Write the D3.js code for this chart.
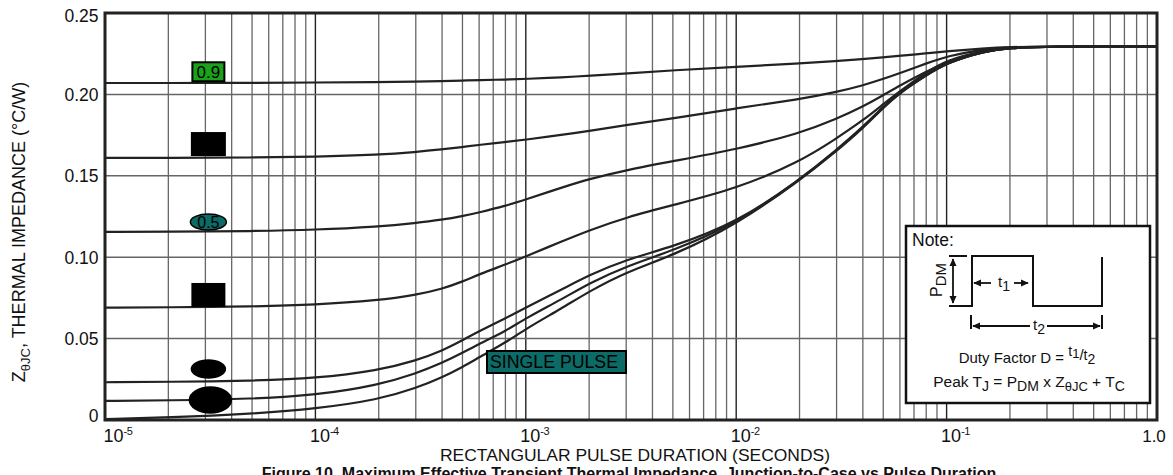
<!DOCTYPE html>
<html><head><meta charset="utf-8">
<script src="https://cdn.jsdelivr.net/npm/d3@7"></script>
<style>body{margin:0;background:#fff}svg{display:block;font-family:"Liberation Sans",Arial,Helvetica,sans-serif}</style>
</head><body><svg id="c" width="1173" height="475"></svg>
<script>
// ---------- DATA ----------
const times = [1e-5,2e-5,5e-5,1e-4,2e-4,3e-4,4e-4,5e-4,6e-4,8e-4,1e-3,1.5e-3,2e-3,3e-3,5e-3,1e-2,2e-2,3e-2,4e-2,5e-2,6e-2,8e-2,1e-1,1.5e-1,2e-1,3e-1,1];
const zD09 = [0.207,0.207,0.2071,0.2073,0.2076,0.2079,0.2082,0.2085,0.2088,0.2091,0.2095,0.2105,0.2115,0.2128,0.2148,0.2170,0.2190,0.2205,0.2217,0.2228,0.2237,0.2252,0.2265,0.2283,0.2291,0.2295,0.2295];
const zD07 = [0.161,0.161,0.1612,0.1617,0.1630,0.1646,0.1662,0.1677,0.1690,0.1708,0.1722,0.1752,0.1775,0.1812,0.1852,0.1915,0.1970,0.2015,0.2055,0.2095,0.2130,0.2190,0.2235,0.2277,0.2290,0.2295,0.2295];
const zD05 = [0.1155,0.1156,0.1160,0.1168,0.1188,0.1210,0.1230,0.1252,0.1275,0.1315,0.1355,0.1430,0.1480,0.1535,0.1590,0.1662,0.1760,0.1850,0.1925,0.1995,0.2055,0.2140,0.2200,0.2265,0.2286,0.2294,0.2295];
const zD03 = [0.069,0.0692,0.0697,0.0707,0.0735,0.0768,0.0805,0.0850,0.0895,0.0955,0.1005,0.1100,0.1165,0.1245,0.1320,0.1420,0.1585,0.1730,0.1840,0.1940,0.2020,0.2135,0.2210,0.2270,0.2287,0.2294,0.2295];
const zD01 = [0.0232,0.0234,0.0241,0.0256,0.0305,0.0365,0.0425,0.0490,0.0545,0.0625,0.0690,0.0805,0.0890,0.0985,0.1065,0.1210,0.1475,0.1660,0.1800,0.1925,0.2015,0.2120,0.2195,0.2265,0.2286,0.2294,0.2295];
const zD005 = [0.0117,0.0120,0.0130,0.0152,0.0215,0.0285,0.0350,0.0412,0.0468,0.0545,0.0625,0.0745,0.0840,0.0945,0.1040,0.1205,0.1472,0.1656,0.1796,0.1922,0.2012,0.2118,0.2194,0.2265,0.2286,0.2294,0.2295];
const zSingle = [0.0005,0.0015,0.0038,0.0068,0.0125,0.0195,0.0262,0.0325,0.0385,0.0475,0.0560,0.0690,0.0790,0.0910,0.1010,0.1200,0.1470,0.1652,0.1792,0.1918,0.2010,0.2117,0.2193,0.2265,0.2286,0.2294,0.2295];
const seriesValues = [zD09, zD07, zD05, zD03, zD01, zD005, zSingle];
const dutyLabels = ["0.9","0.7","0.5","0.3","0.1","0.05"];
const labelTime = 3e-5;
const labelZ = [0.2139,0.1695,0.1216,0.0768,0.0313,0.0123];
const yTickValues = [0,0.05,0.10,0.15,0.20,0.25];
const yTickLabels = ["0","0.05","0.10","0.15","0.20","0.25"];
const xTickValues = [1e-5,1e-4,1e-3,1e-2,1e-1,1];
const xTickExps = ["-5","-4","-3","-2","-1",""];
const singleLabel = "SINGLE PULSE";

// ---------- LAYOUT ----------
const L=105,R=1157,T=13,B=420;
const svg=d3.select("#c");
const x=d3.scaleLog().domain([1e-5,1]).range([L,R]);
const y=d3.scaleLinear().domain([0,0.25]).range([B,T]);

// grid
const minor=[];
for(let e=-5;e<0;e++) for(let m=2;m<=9;m++) minor.push(m*Math.pow(10,e));
const g=svg.append("g");
g.selectAll("line.mv").data(minor).join("line")
 .attr("x1",d=>x(d)).attr("x2",d=>x(d)).attr("y1",T).attr("y2",B)
 .attr("stroke","#666").attr("stroke-width",1.3);
g.selectAll("line.mj").data(xTickValues.slice(1,-1)).join("line")
 .attr("x1",d=>x(d)).attr("x2",d=>x(d)).attr("y1",T).attr("y2",B)
 .attr("stroke","#222").attr("stroke-width",1.4);
g.selectAll("line.h").data(yTickValues.slice(1,-1)).join("line")
 .attr("x1",L).attr("x2",R).attr("y1",d=>y(d)).attr("y2",d=>y(d))
 .attr("stroke","#666").attr("stroke-width",1.5);

// curves
const line=d3.line().x((d,i)=>x(times[i])).y(d=>y(d)).curve(d3.curveBasis);
svg.append("g").selectAll("path").data(seriesValues).join("path")
 .attr("d",line).attr("fill","none").attr("stroke","#222").attr("stroke-width",2.2);

// border
svg.append("rect").attr("x",L).attr("y",T).attr("width",R-L).attr("height",B-T)
 .attr("fill","none").attr("stroke","#222").attr("stroke-width",3);

// duty labels
const shapes=["rect","rect","ellipse","rect","ellipse","ellipse"];
const fills=["#1aa31a","#000","#0c6b66","#000","#000","#000"];
const sizes=[[32,19],[33,22],[36,16],[32,22],[34,18],[42,26]];
const lx=x(labelTime)+3;
dutyLabels.forEach((lab,i)=>{
  const cy=y(labelZ[i]), [w,h]=sizes[i];
  if(shapes[i]==="rect"){
    svg.append("rect").attr("x",lx-w/2).attr("y",cy-h/2).attr("width",w).attr("height",h)
      .attr("fill",fills[i]).attr("stroke","#000").attr("stroke-width",2);
  } else {
    svg.append("ellipse").attr("cx",lx+(i===5?2:0)).attr("cy",cy).attr("rx",w/2).attr("ry",h/2)
      .attr("fill",fills[i]).attr("stroke","#000").attr("stroke-width",1.5);
  }
  svg.append("text").attr("x",lx).attr("y",cy).attr("dy","0.36em").attr("text-anchor","middle")
    .attr("font-size",i===2?16:17).attr("fill","#000").text(lab);
});
// single pulse
svg.append("rect").attr("x",487).attr("y",351).attr("width",139).attr("height",22)
  .attr("fill","#0c6b66").attr("stroke","#000").attr("stroke-width",2);
svg.append("text").attr("x",490).attr("y",362).attr("dy","0.36em")
  .attr("font-size",18).attr("textLength",128).attr("lengthAdjust","spacingAndGlyphs").attr("fill","#000").text(singleLabel);

// y ticks
svg.append("g").selectAll("text").data(yTickValues).join("text")
 .attr("x",98.5).attr("y",d=>y(d)+(d===0.25?3:(d===0?-4:0))).attr("dy","0.36em").attr("text-anchor","end")
 .attr("font-size",17.5).attr("fill","#111").text((d,i)=>yTickLabels[i]);
// x ticks
xTickValues.forEach((v,i)=>{
  const t=svg.append("text").attr("y",442).attr("font-size",18).attr("fill","#111");
  if(xTickExps[i]===""){ t.attr("x",x(v)-3).attr("text-anchor","middle").attr("font-size",17).text("1.0"); return; }
  t.attr("x", i===0 ? x(v)-1.5 : x(v)-5.5);
  t.append("tspan").text("10");
  t.append("tspan").attr("font-size",11).attr("dy",-7).attr("letter-spacing","-0.5").text(xTickExps[i]);
});

// axis titles
const yt=svg.append("text").attr("transform","translate(25,232) rotate(-90)")
 .attr("text-anchor","middle").attr("font-size",18).attr("fill","#111");
yt.append("tspan").text("Z");
yt.append("tspan").attr("font-size",13).attr("dy",5).text("θJC");
yt.append("tspan").attr("dy",-5).text(", THERMAL IMPEDANCE (°C/W)");

svg.append("text").attr("x",635).attr("y",461).attr("text-anchor","middle")
 .attr("font-size",16.5).attr("textLength",390).attr("lengthAdjust","spacingAndGlyphs").attr("fill","#111")
 .text("RECTANGULAR PULSE DURATION (SECONDS)");
svg.append("text").attr("x",629).attr("y",479).attr("text-anchor","middle")
 .attr("font-size",16).attr("font-weight","bold").attr("fill","#111")
 .text("Figure 10.  Maximum Effective Transient Thermal Impedance, Junction-to-Case vs Pulse Duration");

// note box
const nb=svg.append("g");
nb.append("rect").attr("x",906).attr("y",226).attr("width",244).attr("height",177)
 .attr("fill","#fff").attr("stroke","#111").attr("stroke-width",2.5);
nb.append("text").attr("x",912).attr("y",246).attr("font-size",17.5).attr("fill","#111").text("Note:");
nb.append("path").attr("d","M949,306H972V256H1033V306H1102V257").attr("fill","none").attr("stroke","#111").attr("stroke-width",2);
nb.append("path").attr("d","M949,256H967").attr("stroke","#111").attr("stroke-width",2);
const defs=svg.append("defs");
defs.append("marker").attr("id","ah").attr("viewBox","0 0 10 10").attr("refX",9).attr("refY",5)
 .attr("markerWidth",4.5).attr("markerHeight",4.5).attr("orient","auto-start-reverse")
 .append("path").attr("d","M0,0.5L10,5L0,9.5Z").attr("fill","#111");
function arrow(x1,y1,x2,y2,both){const l=nb.append("line").attr("x1",x1).attr("y1",y1).attr("x2",x2).attr("y2",y2)
 .attr("stroke","#111").attr("stroke-width",1.8).attr("marker-end","url(#ah)");
 if(both) l.attr("marker-start","url(#ah)");}
arrow(953,259,953,303,true);
arrow(991,283,974,283);
arrow(1014,283,1028,283);
nb.append("line").attr("x1",971).attr("x2",971).attr("y1",315).attr("y2",329).attr("stroke","#111").attr("stroke-width",2);
nb.append("line").attr("x1",1102).attr("x2",1102).attr("y1",315).attr("y2",329).attr("stroke","#111").attr("stroke-width",2);
arrow(1030,326,973,326);
arrow(1047,326,1100,326);
function txtSub(xx,yy,base,sub){
  const t=nb.append("text").attr("x",xx).attr("y",yy).attr("font-size",15).attr("fill","#111").attr("text-anchor","middle");
  t.append("tspan").text(base); t.append("tspan").attr("font-size",14).attr("dy",4).text(sub); return t;}
txtSub(1004,287,"t","1");
txtSub(1039,330,"t","2");
const pd=nb.append("text").attr("transform","translate(942,280) rotate(-90)").attr("text-anchor","middle").attr("font-size",16).attr("fill","#111");
pd.append("tspan").text("P"); pd.append("tspan").attr("font-size",15).attr("dy",4).text("DM");
const df=nb.append("text").attr("x",1027).attr("y",363).attr("text-anchor","middle").attr("font-size",15).attr("fill","#111");
df.append("tspan").text("Duty Factor  D = ");
df.append("tspan").attr("dy",-7).attr("font-size",14).text("t");
df.append("tspan").attr("dy",2).attr("font-size",13).text("1");
df.append("tspan").attr("dy",2).attr("font-size",15).text("/");
df.append("tspan").attr("dy",0).attr("font-size",14).text("t");
df.append("tspan").attr("dy",4).attr("font-size",14).text("2");
const pk=nb.append("text").attr("x",1029).attr("y",387).attr("text-anchor","middle").attr("font-size",15.5).attr("fill","#111");
pk.append("tspan").text("Peak T");
pk.append("tspan").attr("dy",4).attr("font-size",14).text("J");
pk.append("tspan").attr("dy",-4).text(" = P");
pk.append("tspan").attr("dy",4).attr("font-size",14).text("DM");
pk.append("tspan").attr("dy",-4).text(" x Z");
pk.append("tspan").attr("dy",4).attr("font-size",13).text("θJC");
pk.append("tspan").attr("dy",-4).text(" + T");
pk.append("tspan").attr("dy",4).attr("font-size",14).text("C");
</script></body></html>
